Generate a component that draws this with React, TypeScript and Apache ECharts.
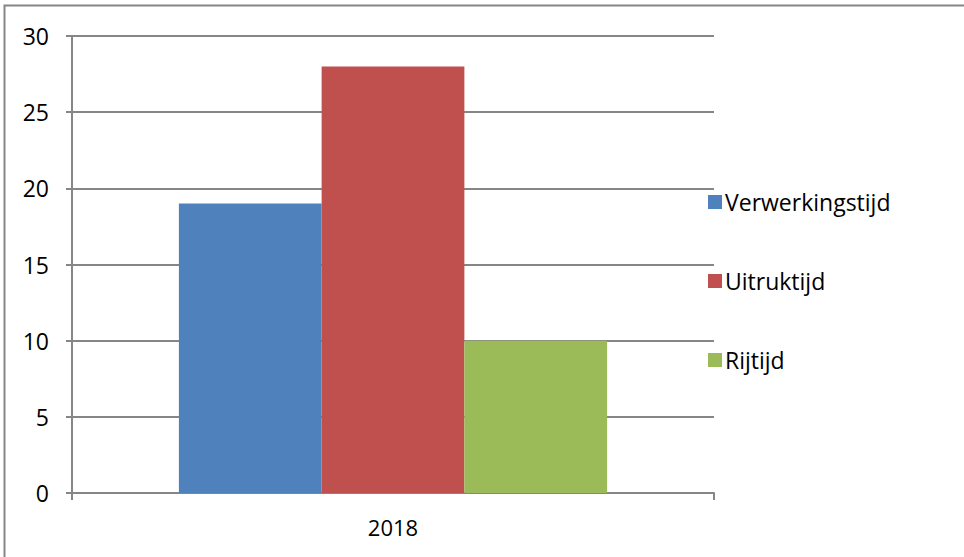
import React, { useEffect, useRef } from "react";
import * as echarts from "echarts";

const categories = ["2018"];
const seriesNames = ["Verwerkingstijd", "Uitruktijd", "Rijtijd"];
const seriesValues = [[19], [28], [10]];
const seriesColors = ["#4F81BD", "#C0504D", "#9BBB59"];

const FONT = "'Open Sans', 'Noto Sans', sans-serif";

export default function App() {
  const ref = useRef<HTMLDivElement>(null);
  useEffect(() => {
    if (!ref.current) return;
    const chart = echarts.init(ref.current, null, { renderer: "svg" });
    chart.setOption({
      animation: false,
      backgroundColor: "#ffffff",
      grid: { left: 72, top: 36, right: 250, bottom: 64, containLabel: false },
      xAxis: {
        type: "category",
        data: categories,
        axisLine: { lineStyle: { color: "#868686", width: 2 } },
        axisTick: { show: true, length: 7, lineStyle: { color: "#868686", width: 2 } },
        axisLabel: { color: "#000", fontFamily: FONT, fontSize: 22, margin: 23 },
      },
      yAxis: {
        type: "value",
        min: 0,
        max: 30,
        interval: 5,
        axisLine: { show: true, lineStyle: { color: "#868686", width: 2 } },
        axisTick: { show: true, length: 6, lineStyle: { color: "#868686", width: 2 } },
        axisLabel: { color: "#000", fontFamily: FONT, fontSize: 23, margin: 23 },
        splitLine: { show: true, lineStyle: { color: "#868686", width: 2 } },
      },
      legend: {
        orient: "vertical",
        left: 703,
        top: 184,
        icon: "rect",
        itemWidth: 14,
        itemHeight: 14,
        itemGap: 53,
        textStyle: { color: "#000", fontFamily: FONT, fontSize: 23, lineHeight: 26, padding: [0, 0, 0, -2] },
        data: seriesNames,
      },
      graphic: [
        {
          type: "rect",
          shape: { x: 4.5, y: 5.5, width: 1000, height: 600 },
          style: { fill: "none", stroke: "#868686", lineWidth: 2 },
          silent: true,
          z: -1,
        },
      ],
      series: seriesNames.map((name, i) => ({
        name,
        type: "bar",
        data: seriesValues[i],
        itemStyle: { color: seriesColors[i] },
        barGap: "0%",
        barCategoryGap: "33.3%",
      })),
    });
    return () => chart.dispose();
  }, []);
  return (
    <div
      ref={ref}
      style={{ position: "fixed", left: 0, top: 0, width: 964, height: 557 }}
    />
  );
}
